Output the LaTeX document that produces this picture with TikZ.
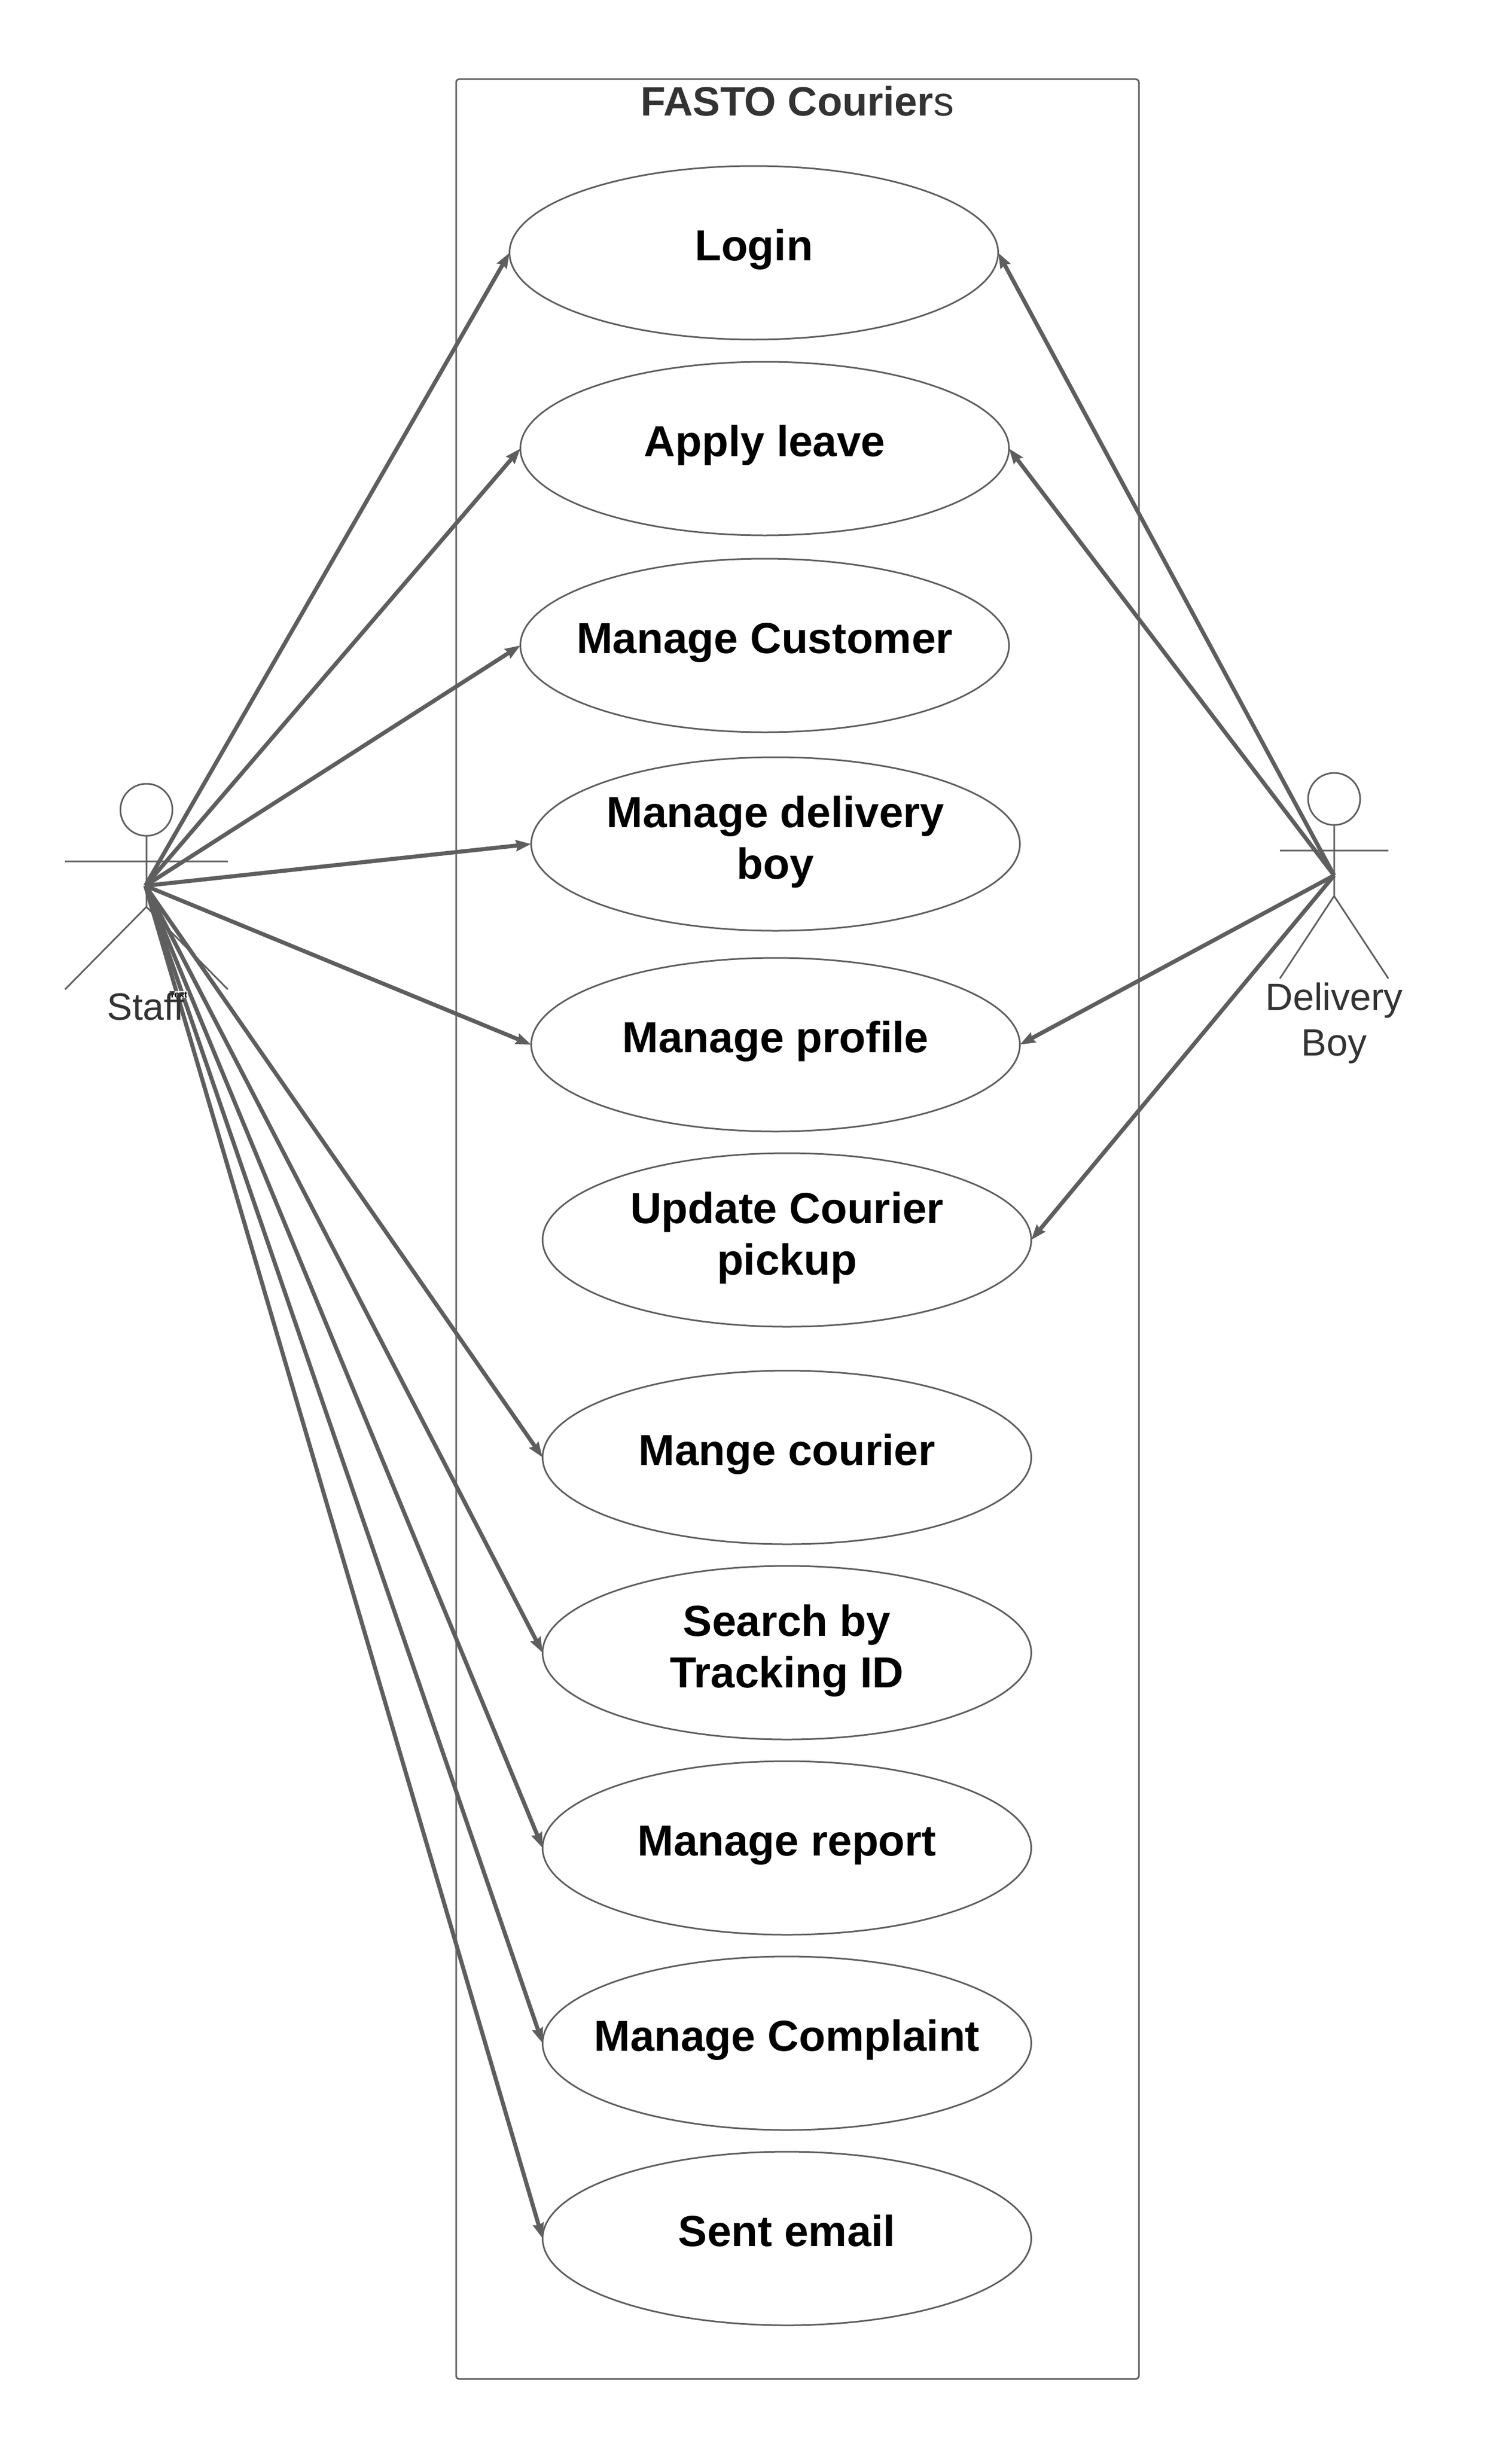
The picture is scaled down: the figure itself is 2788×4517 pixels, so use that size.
\documentclass[tikz,border=0pt]{standalone}
\usepackage{fontspec}
\setmainfont{Liberation Sans}
\usetikzlibrary{shapes.geometric,arrows.meta}
\definecolor{ln}{HTML}{5E5E5E}
\definecolor{tx}{HTML}{333333}
\newcommand{\uctext}[2]{\raisebox{#1}[0pt][0pt]{\makebox[0pt]{\begin{tabular}[t]{@{}c@{}}#2\end{tabular}}}}
\tikzset{
  usecase/.style={ellipse,draw=ln,line width=3pt,minimum width=901pt,minimum height=320pt,inner sep=0pt,outer sep=0pt,text=black,
    font=\fontsize{80}{95}\selectfont\bfseries},
  actorlabel/.style={text=tx,align=center,inner sep=0pt,font=\fontsize{70}{84}\selectfont},
  actorhead/.style={draw=ln,line width=3pt,circle,minimum size=96pt,inner sep=0pt,outer sep=0pt},
  limb/.style={draw=ln,line width=3pt},
  assoc/.style={draw=ln,line width=7.5pt,-{Stealth[length=28pt,width=20pt,inset=3pt]}}
}
\begin{document}
\begin{tikzpicture}[x=1pt,y=-1pt]
\useasboundingbox (0,0) rectangle (2788,4517);
\node[draw=ln,line width=3pt,rounded corners=6pt,minimum width=1259pt,minimum height=4240pt,inner sep=0pt,outer sep=0pt] (system) at (1470.5,2266) {};
\node[text=tx,inner sep=0pt,anchor=base,font=\fontsize{75.5}{90}\selectfont] (title) at (1470,214) {\textbf{FASTO Courier}s};
\node[usecase] (login) at (1390,466) {\uctext{-14pt}{Login}};
\node[usecase] (leave) at (1410,827) {\uctext{-14pt}{Apply leave}};
\node[usecase] (customer) at (1410,1190) {\uctext{-14pt}{Manage Customer}};
\node[usecase] (delivery) at (1430,1556) {\uctext{31pt}{Manage delivery\\boy}};
\node[usecase] (profile) at (1430,1926) {\uctext{-14pt}{Manage profile}};
\node[usecase] (pickup) at (1451,2286) {\uctext{31pt}{Update Courier\\pickup}};
\node[usecase] (courier) at (1451,2687) {\uctext{-14pt}{Mange courier}};
\node[usecase] (search) at (1451,3047) {\uctext{31pt}{Search by\\Tracking ID}};
\node[usecase] (report) at (1451,3407) {\uctext{-14pt}{Manage report}};
\node[usecase] (complaint) at (1451,3767) {\uctext{-14pt}{Manage Complaint}};
\node[usecase] (email) at (1451,4127) {\uctext{-14pt}{Sent email}};
% Staff actor
\node[actorhead] (staffhead) at (270,1493) {};
\coordinate (staffarml) at (120,1588);
\coordinate (staffarmr) at (420,1588);
\coordinate (staffhip) at (270,1672);
\coordinate (stafflegl) at (120,1824);
\coordinate (stafflegr) at (420,1824);
\coordinate (staffhub) at (268,1633);
\draw[limb] (staffhead.south) -- (staffhip) (staffarml) -- (staffarmr) (stafflegl) -- (staffhip) -- (stafflegr);
% Delivery actor
\node[actorhead] (boyhead) at (2460,1473) {};
\coordinate (boyarml) at (2360,1568);
\coordinate (boyarmr) at (2560,1568);
\coordinate (boyhip) at (2460,1652);
\coordinate (boylegl) at (2360,1804);
\coordinate (boylegr) at (2560,1804);
\coordinate (boyhub) at (2460,1614);
\draw[limb] (boyhead.south) -- (boyhip) (boyarml) -- (boyarmr) (boylegl) -- (boyhip) -- (boylegr);
\node[actorlabel,anchor=base] (boylabel) at (2460,1946) {Delivery\\Boy};
% Associations
\foreach \t in {login,leave,customer,delivery,profile,courier,search,report,complaint,email}
  \draw[assoc] (staffhub) -- (\t.west);
\foreach \t in {login,leave,profile,pickup}
  \draw[assoc] (boyhub) -- (\t.east);
\node[fill=white,fill opacity=0.8,text opacity=1,text=black,inner sep=1pt,anchor=base,font=\fontsize{16.5}{20}\selectfont\bfseries] (stafftiny) at (329,1839) {Text};
\node[actorlabel,anchor=base] (stafflabel) at (269,1880) {Staff};
\end{tikzpicture}
\end{document}
